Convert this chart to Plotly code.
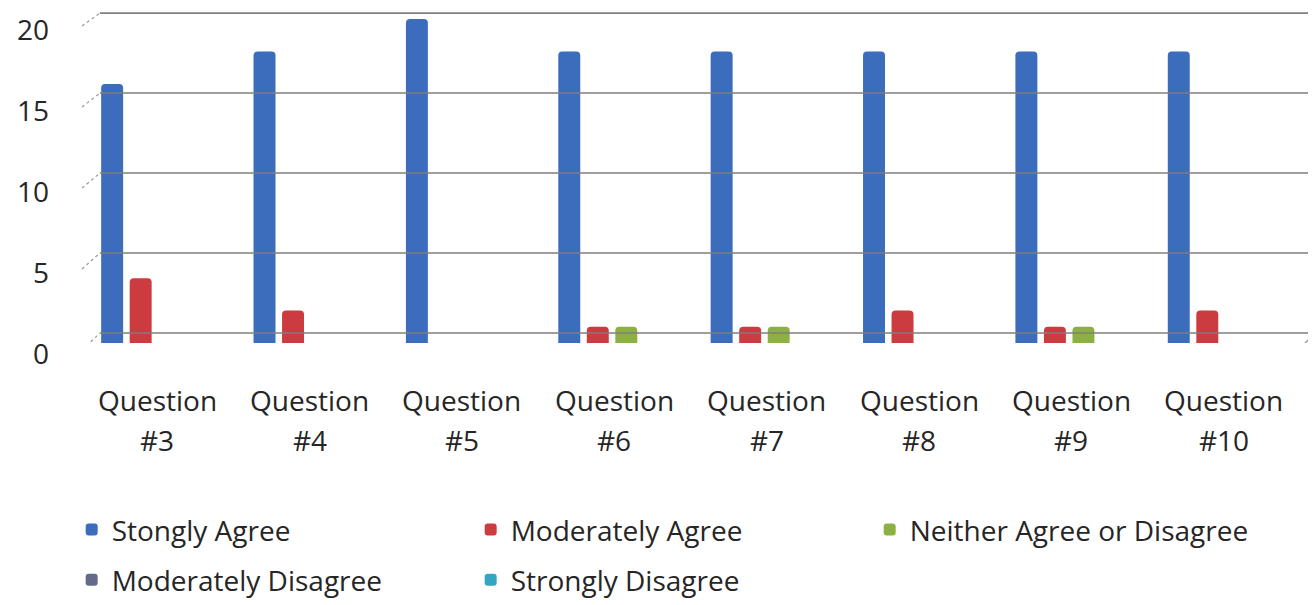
import plotly.graph_objects as go

categories = ["Question #3", "Question #4", "Question #5", "Question #6",
              "Question #7", "Question #8", "Question #9", "Question #10"]
series_names = ["Stongly Agree", "Moderately Agree", "Neither Agree or Disagree",
                "Moderately Disagree", "Strongly Disagree"]
strongly_agree = [16, 18, 20, 18, 18, 18, 18, 18]
moderately_agree = [4, 2, 0, 1, 1, 2, 1, 2]
neither = [0, 0, 0, 1, 1, 0, 1, 0]
moderately_disagree = [0, 0, 0, 0, 0, 0, 0, 0]
strongly_disagree = [0, 0, 0, 0, 0, 0, 0, 0]
y_ticks = [0, 5, 10, 15, 20]

series_values = [strongly_agree, moderately_agree, neither,
                 moderately_disagree, strongly_disagree]
colors = ["#3B6DBC", "#CC3B40", "#8DB043", "#656A8C", "#35A6C2"]
legend_ids = ["legend", "legend", "legend", "legend2", "legend2"]

FONT = "Open Sans"
FS = 28
fig = go.Figure()
for name, vals, col, lg in zip(series_names, series_values, colors, legend_ids):
    fig.add_trace(go.Bar(
        x=categories, y=vals, name=name, legend=lg,
        marker=dict(color=col, line=dict(width=0), cornerradius=4),
    ))

# 3D-like back-wall gridlines and floor
shapes = []
for v in y_ticks:
    off = 10 - 0.2 * v
    shapes.append(dict(type="line", xref="paper", yref="y", ysizemode="pixel",
                       yanchor=v, x0=0.0057, x1=1.01, y0=off, y1=off,
                       line=dict(color="#7F7F7F", width=1.6)))
    shapes.append(dict(type="line", xref="paper", yref="y", xsizemode="pixel",
                       ysizemode="pixel", xanchor=0, yanchor=v,
                       x0=-11, x1=7, y0=-7, y1=off,
                       line=dict(color="#9A9A9A", width=1.2, dash="dot")))
shapes.append(dict(type="line", xref="paper", yref="y", ysizemode="pixel",
                   yanchor=0, x0=-0.0107, x1=0.990, y0=-5, y1=-5,
                   line=dict(color="#7F7F7F", width=1.6)))
shapes.append(dict(type="line", xref="paper", yref="y", xsizemode="pixel",
                   ysizemode="pixel", xanchor=0.990, yanchor=0,
                   x0=0, x1=16, y0=-5, y1=10,
                   line=dict(color="#9A9A9A", width=1.4)))

annotations = []
for c in categories:
    first, second = c.split(" ")
    annotations.append(dict(x=c, xref="x", y=-0.1717, yref="paper", text=first,
                            showarrow=False, xshift=-12, yanchor="middle",
                            font=dict(family=FONT, size=FS, color="#262626")))
    annotations.append(dict(x=c, xref="x", y=-0.2922, yref="paper", text=second,
                            showarrow=False, xshift=-12, yanchor="middle",
                            font=dict(family=FONT, size=FS, color="#262626")))

legend_common = dict(orientation="h", xanchor="left",
                     entrywidth=354, entrywidthmode="pixels",
                     font=dict(family=FONT, size=FS, color="#262626"),
                     bgcolor="rgba(0,0,0,0)")

# page has an 8px body margin: figure is shrunk so the plot lands in place
fig.update_layout(
    width=1308, height=597,
    margin=dict(l=85, r=4, t=3, b=262, autoexpand=False),
    paper_bgcolor="white", plot_bgcolor="white",
    barmode="group", bargap=0.064, bargroupgap=0.23,
    font=dict(family=FONT, size=FS, color="#262626"),
    shapes=shapes, annotations=annotations,
    xaxis=dict(showticklabels=False, showgrid=False, zeroline=False,
               showline=False, ticks="", automargin=False),
    yaxis=dict(range=[0, 20.5], tickvals=y_ticks, showgrid=False,
               zeroline=False, showline=False, ticks="", automargin=False,
               ticklabelstandoff=43, ticklabelshift=11,
               tickfont=dict(family=FONT, size=FS, color="#262626")),
    legend=dict(x=-0.0175, y=-0.563, yanchor="middle", **legend_common),
    legend2=dict(x=-0.0175, y=-0.789, yanchor="bottom", **legend_common),
)

fig.write_html("out.html")
